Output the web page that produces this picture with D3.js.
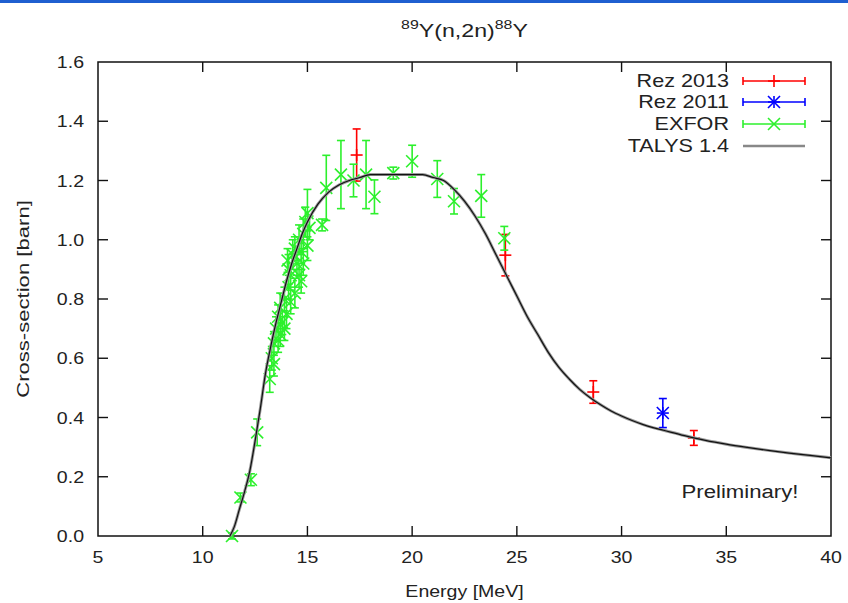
<!DOCTYPE html>
<html>
<head>
<meta charset="utf-8" />
<title>89Y(n,2n)88Y</title>
<script src="https://d3js.org/d3.v7.min.js"></script>
<style>
html, body { margin: 0; padding: 0; background: #fff; }
svg { display: block; }
text { font-family: "Liberation Sans", Arial, sans-serif; fill: #222; }
</style>
</head>
<body>
<script>
// TALYS 1.4 calculation
const talysE  = [11.3, 11.5, 11.75, 12.0, 12.25, 12.5, 12.75, 13.0, 13.25, 13.5, 13.75, 14.0, 14.25, 14.5, 14.75, 15.0, 15.5, 16.0, 16.5, 17.0, 17.5, 18.0, 19.0, 20.0, 20.5, 21.0, 21.5, 22.0, 22.5, 23.0, 23.5, 24.0, 24.5, 25.0, 25.5, 26.0, 26.5, 27.0, 27.5, 28.0, 28.5, 29.0, 29.5, 30.0, 30.5, 31.0, 31.5, 32.0, 33.0, 34.0, 35.0, 36.0, 37.0, 38.0, 39.0, 40.0];
const talysXS = [0.0, 0.03, 0.09, 0.15, 0.22, 0.32, 0.43, 0.55, 0.64, 0.72, 0.79, 0.86, 0.92, 0.97, 1.02, 1.06, 1.12, 1.16, 1.185, 1.20, 1.21, 1.22, 1.22, 1.22, 1.22, 1.21, 1.20, 1.17, 1.13, 1.08, 1.02, 0.95, 0.88, 0.81, 0.74, 0.68, 0.62, 0.57, 0.53, 0.495, 0.467, 0.443, 0.422, 0.405, 0.39, 0.377, 0.366, 0.357, 0.339, 0.323, 0.31, 0.299, 0.289, 0.28, 0.272, 0.264];

// EXFOR data
const exforE   = [11.4, 11.8, 12.3, 12.6, 13.2, 13.3, 13.4, 13.4, 13.5, 13.6, 13.6, 13.7, 13.7, 13.8, 13.9, 13.9, 14.0, 14.05, 14.1, 14.1, 14.2, 14.2, 14.3, 14.4, 14.4, 14.5, 14.6, 14.6, 14.7, 14.7, 14.8, 14.8, 14.9, 15.0, 15.0, 15.1, 15.7, 15.9, 16.6, 17.2, 17.8, 18.2, 19.1, 20.0, 21.2, 22.0, 23.3, 24.4];
const exforXS  = [0.0, 0.13, 0.19, 0.35, 0.53, 0.60, 0.65, 0.58, 0.70, 0.74, 0.66, 0.68, 0.77, 0.72, 0.80, 0.70, 0.75, 0.93, 0.84, 0.90, 0.88, 0.79, 0.95, 0.82, 0.97, 0.92, 1.00, 0.88, 0.86, 0.96, 1.02, 0.92, 1.06, 0.98, 1.09, 1.04, 1.05, 1.175, 1.22, 1.20, 1.22, 1.145, 1.225, 1.265, 1.205, 1.13, 1.148, 1.005];
const exforErr = [0.01, 0.015, 0.02, 0.045, 0.045, 0.04, 0.04, 0.04, 0.04, 0.04, 0.04, 0.04, 0.05, 0.04, 0.04, 0.04, 0.05, 0.04, 0.04, 0.05, 0.04, 0.04, 0.05, 0.05, 0.04, 0.04, 0.05, 0.04, 0.04, 0.04, 0.05, 0.04, 0.05, 0.05, 0.08, 0.04, 0.02, 0.11, 0.115, 0.055, 0.115, 0.057, 0.02, 0.054, 0.062, 0.043, 0.072, 0.04];

// Rez 2013 / Rez 2011 measurements
const rez13E   = [17.35, 24.45, 28.65, 33.45];
const rez13XS  = [1.286, 0.948, 0.486, 0.331];
const rez13Err = [0.088, 0.07, 0.038, 0.025];
const rez11E   = [31.97];
const rez11XS  = [0.415];
const rez11Err = [0.049];

const xTicks = [5, 10, 15, 20, 25, 30, 35, 40];
const yTicks = [0.0, 0.2, 0.4, 0.6, 0.8, 1.0, 1.2, 1.4, 1.6];

const w = 848, h = 603;
const pLeft = 98, pRight = 831, pTop = 62, pBottom = 536;
const fs = 17;

const svg = d3.select('body').append('svg').attr('width', w).attr('height', h);

const xScale = d3.scaleLinear().domain([5, 40]).range([pLeft, pRight]);
const yScale = d3.scaleLinear().domain([0, 1.6]).range([pBottom, pTop]);

// text in the picture is stretched sideways, so every label gets its own x scale
function label(g, x, y, str, anchor, size, sx) {
    return g.append('text')
        .attr('transform', 'translate(' + x + ',' + y + ') scale(' + (sx || 1.15) + ',1)')
        .attr('text-anchor', anchor)
        .attr('font-size', size || fs)
        .text(str);
}

// slide border at the very top
svg.append('rect').attr('x', 0).attr('y', 0).attr('width', w).attr('height', 3).attr('fill', '#1f5fd0');

// frame
svg.append('rect').attr('x', pLeft).attr('y', pTop).attr('width', pRight - pLeft).attr('height', pBottom - pTop)
    .attr('fill', 'none').attr('stroke', '#111').attr('stroke-width', 1.5);

// axes with inward mirrored ticks
const tl = 10;
const gx = svg.append('g');
xTicks.forEach((t) => {
    const x = xScale(t);
    if (t > 5 && t < 40) {
        gx.append('line').attr('x1', x).attr('x2', x).attr('y1', pBottom).attr('y2', pBottom - tl).attr('stroke', '#111').attr('stroke-width', 1.4);
        gx.append('line').attr('x1', x).attr('x2', x).attr('y1', pTop).attr('y2', pTop + tl).attr('stroke', '#111').attr('stroke-width', 1.4);
    }
    label(gx, x, pBottom + 27, String(t), 'middle');
});
const gy = svg.append('g');
yTicks.forEach((t) => {
    const y = yScale(t);
    if (t > 0 && t < 1.6) {
        gy.append('line').attr('x1', pLeft).attr('x2', pLeft + tl).attr('y1', y).attr('y2', y).attr('stroke', '#111').attr('stroke-width', 1.4);
        gy.append('line').attr('x1', pRight).attr('x2', pRight - tl).attr('y1', y).attr('y2', y).attr('stroke', '#111').attr('stroke-width', 1.4);
    }
    label(gy, pLeft - 14, y + 6, t.toFixed(1), 'end');
});

// axis titles
label(svg, (pLeft + pRight) / 2, 597, 'Energy [MeV]', 'middle');
svg.append('text').attr('transform', 'translate(29,' + ((pTop + pBottom) / 2) + ') rotate(-90) scale(1.3,1)')
    .attr('text-anchor', 'middle').attr('font-size', fs).text('Cross-section [barn]');

// title with superscripts
const title = svg.append('text').attr('transform', 'translate(' + ((pLeft + pRight) / 2) + ',37) scale(1.22,1)')
    .attr('text-anchor', 'middle').attr('font-size', 19);
title.append('tspan').attr('font-size', 13).attr('dy', -8).text('89');
title.append('tspan').attr('dy', 8).text('Y(n,2n)');
title.append('tspan').attr('font-size', 13).attr('dy', -8).text('88');
title.append('tspan').attr('dy', 8).text('Y');

label(svg, 740, 498, 'Preliminary!', 'middle', 18, 1.23);

// markers
function drawMarker(g, x, y, kind, color) {
    const s = 6;
    const add = (x1, y1, x2, y2) => g.append('line').attr('x1', x1).attr('y1', y1).attr('x2', x2).attr('y2', y2)
        .attr('stroke', color).attr('stroke-width', 1.6);
    if (kind === 'plus' || kind === 'star') {
        add(x - s, y, x + s, y);
        add(x, y - s, x, y + s);
    }
    if (kind === 'cross' || kind === 'star') {
        add(x - s, y - s, x + s, y + s);
        add(x - s, y + s, x + s, y - s);
    }
}

function drawSeries(E, XS, Err, kind, color) {
    const g = svg.append('g');
    const cap = 4;
    E.forEach((e, i) => {
        const x = xScale(e);
        const y0 = yScale(XS[i] - Err[i]);
        const y1 = yScale(XS[i] + Err[i]);
        g.append('line').attr('x1', x).attr('x2', x).attr('y1', y0).attr('y2', y1).attr('stroke', color).attr('stroke-width', 1.6);
        g.append('line').attr('x1', x - cap).attr('x2', x + cap).attr('y1', y0).attr('y2', y0).attr('stroke', color).attr('stroke-width', 1.6);
        g.append('line').attr('x1', x - cap).attr('x2', x + cap).attr('y1', y1).attr('y2', y1).attr('stroke', color).attr('stroke-width', 1.6);
        drawMarker(g, x, yScale(XS[i]), kind, color);
    });
}

drawSeries(rez13E, rez13XS, rez13Err, 'plus', '#ff0000');
drawSeries(rez11E, rez11XS, rez11Err, 'star', '#0000ff');
drawSeries(exforE, exforXS, exforErr, 'cross', '#2cf02c');

// TALYS curve
const line = d3.line().x((d) => xScale(d[0])).y((d) => yScale(d[1])).curve(d3.curveMonotoneX);
const talys = talysE.map((e, i) => [e, talysXS[i]]);
svg.append('path').datum(talys).attr('d', line).attr('fill', 'none').attr('stroke', '#9a9a9a').attr('stroke-width', 3);
svg.append('path').datum(talys).attr('d', line).attr('fill', 'none').attr('stroke', '#111').attr('stroke-width', 1.2);

// legend
const legNames = ['Rez 2013', 'Rez 2011', 'EXFOR', 'TALYS 1.4'];
const legColors = ['#ff0000', '#0000ff', '#2cf02c', '#888'];
const legKinds = ['plus', 'star', 'cross', null];
const legY = [81, 102, 124, 146];
const lx0 = 743, lx1 = 805;
const lg = svg.append('g');
legNames.forEach((n, i) => {
    const y = legY[i];
    label(lg, 729, y + 6, n, 'end', 18, 1.2);
    if (legKinds[i]) {
        lg.append('line').attr('x1', lx0).attr('x2', lx1).attr('y1', y).attr('y2', y).attr('stroke', legColors[i]).attr('stroke-width', 1.6);
        lg.append('line').attr('x1', lx0).attr('x2', lx0).attr('y1', y - 4).attr('y2', y + 4).attr('stroke', legColors[i]).attr('stroke-width', 1.6);
        lg.append('line').attr('x1', lx1).attr('x2', lx1).attr('y1', y - 4).attr('y2', y + 4).attr('stroke', legColors[i]).attr('stroke-width', 1.6);
        drawMarker(lg, (lx0 + lx1) / 2, y, legKinds[i], legColors[i]);
    } else {
        lg.append('line').attr('x1', lx0).attr('x2', lx1).attr('y1', y).attr('y2', y).attr('stroke', legColors[i]).attr('stroke-width', 2.6);
    }
});
</script>
</body>
</html>
